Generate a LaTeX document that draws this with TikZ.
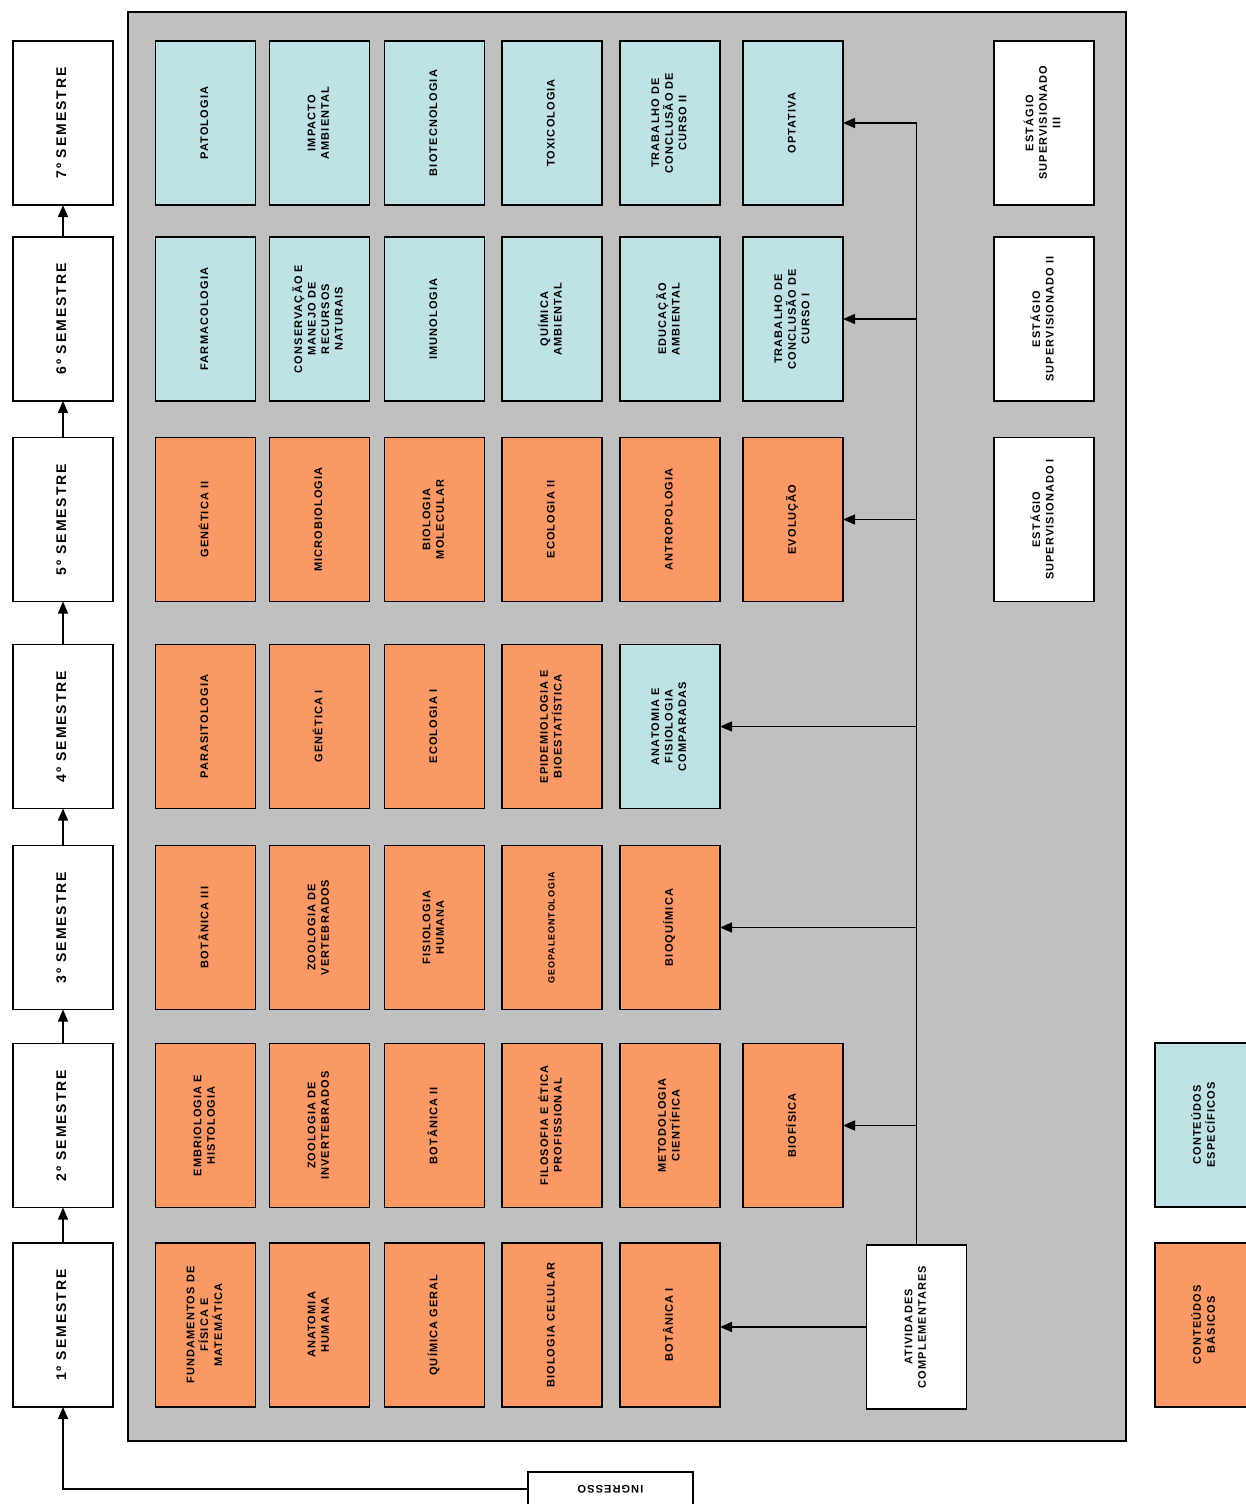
\documentclass[tikz,border=0pt]{standalone}
\usepackage{graphicx}
\usepackage{fontspec}
\setmainfont{Liberation Sans}
\newfontfamily\coursefam[LetterSpace=10]{Liberation Sans}
\newfontfamily\semfam[LetterSpace=14]{Liberation Sans}
\usetikzlibrary{arrows.meta}
\definecolor{orangec}{RGB}{250,152,102}
\definecolor{bluec}{RGB}{190,226,230}
\definecolor{panelc}{RGB}{192,192,192}
\newcommand{\vlbl}[1]{\rotatebox{90}{\begin{tabular}{@{}c@{}}#1\end{tabular}}}
\begin{document}
\begin{tikzpicture}[x=1pt,y=-1pt,
  box/.style={draw=black, line width=1.6pt, minimum width=100pt, minimum height=164pt,
    inner sep=0pt, outer sep=0pt,
    font={\coursefam\bfseries\fontsize{11}{13.5}\selectfont}},
  basic/.style={box, fill=orangec},
  spec/.style={box, fill=bluec},
  plain/.style={box, fill=white},
  sem/.style={box, fill=white, line width=1.8pt,
    font={\semfam\bfseries\fontsize{14}{16}\selectfont}},
  conn/.style={line width=1.5pt, -{Triangle[length=12pt,width=10pt]}},
  link/.style={line width=1.5pt}]
\useasboundingbox (0,0) rectangle (1245,1504);

% panel
\draw[line width=1.5pt, fill=panelc] (128,12) rectangle (1126,1441);

% semesters
\node[sem] (s1) at (63,1325)   {\vlbl{1º SEMESTRE}};
\node[sem] (s2) at (63,1125.5) {\vlbl{2º SEMESTRE}};
\node[sem] (s3) at (63,927.5)  {\vlbl{3º SEMESTRE}};
\node[sem] (s4) at (63,726.5)  {\vlbl{4º SEMESTRE}};
\node[sem] (s5) at (63,519.5)  {\vlbl{5º SEMESTRE}};
\node[sem] (s6) at (63,319)    {\vlbl{6º SEMESTRE}};
\node[sem] (s7) at (63,123)    {\vlbl{7º SEMESTRE}};

% row 7
\node[spec] (r7c1) at (205.5,123) {\vlbl{PATOLOGIA}};
\node[spec] (r7c2) at (319.5,123) {\vlbl{IMPACTO\\AMBIENTAL}};
\node[spec] (r7c3) at (434.5,123) {\vlbl{BIOTECNOLOGIA}};
\node[spec] (r7c4) at (552,123)   {\vlbl{TOXICOLOGIA}};
\node[spec] (r7c5) at (670,123)   {\vlbl{TRABALHO DE\\CONCLUSÃO DE\\CURSO II}};
\node[spec] (r7c6) at (793,123)   {\vlbl{OPTATIVA}};
\node[plain] (r7c7) at (1044,123) {\vlbl{ESTÁGIO\\SUPERVISIONADO\\III}};

% row 6
\node[spec] (r6c1) at (205.5,319) {\vlbl{FARMACOLOGIA}};
\node[spec] (r6c2) at (319.5,319) {\vlbl{CONSERVAÇÃO E\\MANEJO DE\\RECURSOS\\NATURAIS}};
\node[spec] (r6c3) at (434.5,319) {\vlbl{IMUNOLOGIA}};
\node[spec] (r6c4) at (552,319)   {\vlbl{QUÍMICA\\AMBIENTAL}};
\node[spec] (r6c5) at (670,319)   {\vlbl{EDUCAÇÃO\\AMBIENTAL}};
\node[spec] (r6c6) at (793,319)   {\vlbl{TRABALHO DE\\CONCLUSÃO DE\\CURSO I}};
\node[plain] (r6c7) at (1044,319) {\vlbl{ESTÁGIO\\SUPERVISIONADO II}};

% row 5
\node[basic] (r5c1) at (205.5,519.5) {\vlbl{GENÉTICA II}};
\node[basic] (r5c2) at (319.5,519.5) {\vlbl{MICROBIOLOGIA}};
\node[basic] (r5c3) at (434.5,519.5) {\vlbl{BIOLOGIA\\MOLECULAR}};
\node[basic] (r5c4) at (552,519.5)   {\vlbl{ECOLOGIA II}};
\node[basic] (r5c5) at (670,519.5)   {\vlbl{ANTROPOLOGIA}};
\node[basic] (r5c6) at (793,519.5)   {\vlbl{EVOLUÇÃO}};
\node[plain] (r5c7) at (1044,519.5)  {\vlbl{ESTÁGIO\\SUPERVISIONADO I}};

% row 4
\node[basic] (r4c1) at (205.5,726.5) {\vlbl{PARASITOLOGIA}};
\node[basic] (r4c2) at (319.5,726.5) {\vlbl{GENÉTICA I}};
\node[basic] (r4c3) at (434.5,726.5) {\vlbl{ECOLOGIA I}};
\node[basic] (r4c4) at (552,726.5)   {\vlbl{EPIDEMIOLOGIA E\\BIOESTATÍSTICA}};
\node[spec]  (r4c5) at (670,726.5)   {\vlbl{ANATOMIA E\\FISIOLOGIA\\COMPARADAS}};

% row 3
\node[basic] (r3c1) at (205.5,927.5) {\vlbl{BOTÂNICA III}};
\node[basic] (r3c2) at (319.5,927.5) {\vlbl{ZOOLOGIA DE\\VERTEBRADOS}};
\node[basic] (r3c3) at (434.5,927.5) {\vlbl{FISIOLOGIA\\HUMANA}};
\node[basic] (r3c4) at (552,927.5)   {\vlbl{\fontsize{9}{10}\selectfont GEOPALEONTOLOGIA}};
\node[basic] (r3c5) at (670,927.5)   {\vlbl{BIOQUÍMICA}};

% row 2
\node[basic] (r2c1) at (205.5,1125.5) {\vlbl{EMBRIOLOGIA E\\HISTOLOGIA}};
\node[basic] (r2c2) at (319.5,1125.5) {\vlbl{ZOOLOGIA DE\\INVERTEBRADOS}};
\node[basic] (r2c3) at (434.5,1125.5) {\vlbl{BOTÂNICA II}};
\node[basic] (r2c4) at (552,1125.5)   {\vlbl{FILOSOFIA E ÉTICA\\PROFISSIONAL}};
\node[basic] (r2c5) at (670,1125.5)   {\vlbl{METODOLOGIA\\CIENTÍFICA}};
\node[basic] (r2c6) at (793,1125.5)   {\vlbl{BIOFÍSICA}};

% row 1
\node[basic] (r1c1) at (205.5,1325) {\vlbl{FUNDAMENTOS DE\\FÍSICA E\\MATEMÁTICA}};
\node[basic] (r1c2) at (319.5,1325) {\vlbl{ANATOMIA\\HUMANA}};
\node[basic] (r1c3) at (434.5,1325) {\vlbl{QUÍMICA GERAL}};
\node[basic] (r1c4) at (552,1325)   {\vlbl{BIOLOGIA CELULAR}};
\node[basic] (r1c5) at (670,1325)   {\vlbl{BOTÂNICA I}};
\node[plain] (ativ) at (916.5,1327)  {\vlbl{ATIVIDADES\\COMPLEMENTARES}};

% legend
\node[spec]  (legspec)  at (1205,1125) {\vlbl{CONTEÚDOS\\ESPECÍFICOS}};
\node[basic] (legbasic) at (1205,1325) {\vlbl{CONTEÚDOS\\BÁSICOS}};

% ingresso (box runs off the bottom edge)
\node[minimum width=165pt, minimum height=34pt, inner sep=0pt, outer sep=0pt,
  font={\coursefam\bfseries\fontsize{11}{13.5}\selectfont}]
  (ingresso) at (610.5,1489) {\rotatebox{180}{INGRESSO}};
\draw[link] (ingresso.south west) |- (ingresso.north east) -- (ingresso.south east);

% semester chain
\draw[conn] (ingresso.west) -| (s1.south);
\draw[conn] (s1) -- (s2);
\draw[conn] (s2) -- (s3);
\draw[conn] (s3) -- (s4);
\draw[conn] (s4) -- (s5);
\draw[conn] (s5) -- (s6);
\draw[conn] (s6) -- (s7);

% complementary activities
\draw[conn] (ativ.west) -- (ativ.west -| r1c5.east);
\draw[link] (ativ.north) -- (ativ.north |- r7c6.east);
\draw[conn] (ativ.north |- r2c6.east) -- (r2c6.east);
\draw[conn] (ativ.north |- r3c5.east) -- (r3c5.east);
\draw[conn] (ativ.north |- r4c5.east) -- (r4c5.east);
\draw[conn] (ativ.north |- r5c6.east) -- (r5c6.east);
\draw[conn] (ativ.north |- r6c6.east) -- (r6c6.east);
\draw[conn] (ativ.north |- r7c6.east) -- (r7c6.east);
\end{tikzpicture}
\end{document}
